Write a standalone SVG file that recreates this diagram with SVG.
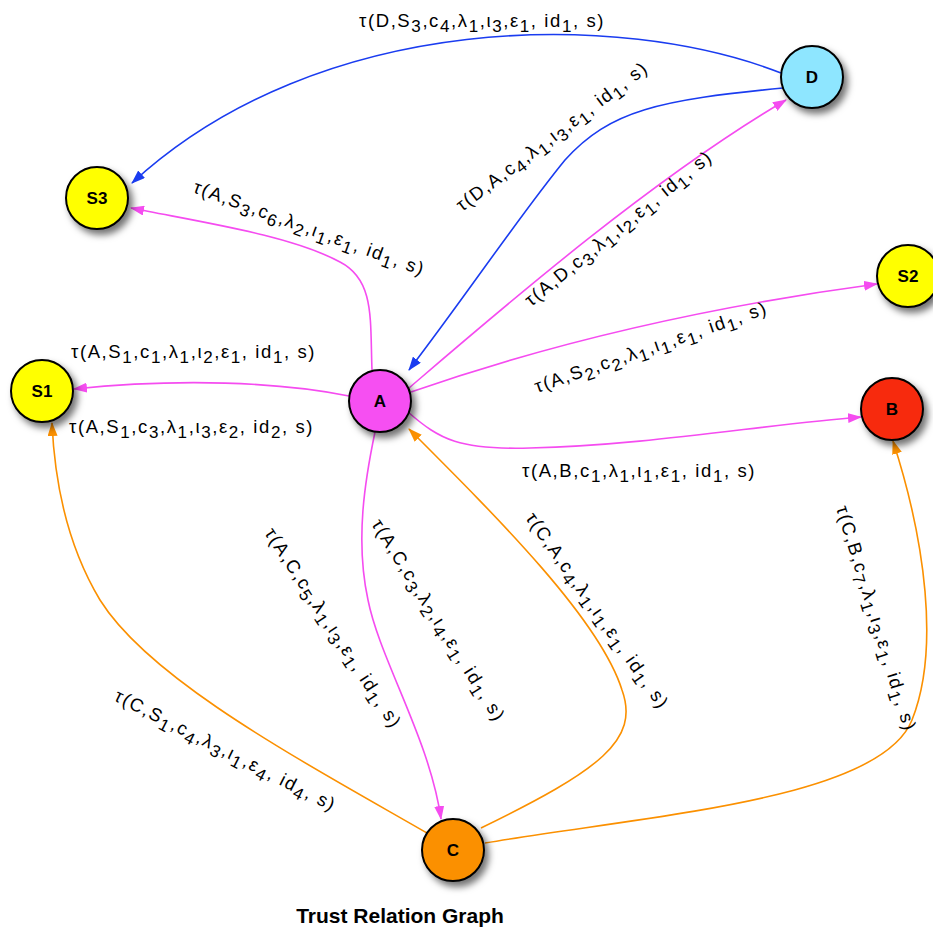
<svg xmlns="http://www.w3.org/2000/svg" width="933" height="931" viewBox="0 0 933 931">
  <style>
    .e { fill: none; stroke-width: 1.6; }
    .blue { stroke: #1a3cf0; }
    .pink { stroke: #f54cf0; }
    .orange { stroke: #fb9000; }
    .lbl { font-family: "Liberation Sans", Arial, sans-serif; font-size: 18.5px; letter-spacing: 1.6px; fill: #000; }
    .s { font-size: 17px; }
    .node { stroke: #000; stroke-width: 2; filter: url(#shadow); }
    .nt { font-family: "Liberation Sans", Arial, sans-serif; font-size: 17px; font-weight: bold; text-anchor: middle; fill: #000; }
    .title { font-family: "Liberation Sans", Arial, sans-serif; font-size: 21px; font-weight: bold; text-anchor: middle; fill: #000; }
  </style>
  <defs>
    <filter id="shadow" x="-50%" y="-50%" width="200%" height="200%">
      <feDropShadow dx="4" dy="5" stdDeviation="3.5" flood-color="#000" flood-opacity="0.55"/>
    </filter>
    <marker id="ab" viewBox="0 0 14 10" refX="13" refY="5" markerWidth="14" markerHeight="10" markerUnits="userSpaceOnUse" orient="auto">
      <path d="M0,0 L14,5 L0,10 Z" fill="#1a3cf0"/>
    </marker>
    <marker id="ap" viewBox="0 0 14 10" refX="13" refY="5" markerWidth="14" markerHeight="10" markerUnits="userSpaceOnUse" orient="auto">
      <path d="M0,0 L14,5 L0,10 Z" fill="#f54cf0"/>
    </marker>
    <marker id="ao" viewBox="0 0 14 10" refX="13" refY="5" markerWidth="14" markerHeight="10" markerUnits="userSpaceOnUse" orient="auto">
      <path d="M0,0 L14,5 L0,10 Z" fill="#fb9000"/>
    </marker>
  </defs>
  <rect width="933" height="931" fill="#fff"/>

  <!-- connectors -->
  <g id="edges">
    <path class="e blue" d="M781,73 C620,10 320,10 132,183" marker-end="url(#ab)"/>
    <path class="e blue" d="M783,88 C660,100 610,110 565,160 C520,215 470,290 409,370" marker-end="url(#ab)"/>
    <path class="e pink" d="M409,388 C500,310 650,180 786,100" marker-end="url(#ap)"/>
    <path class="e pink" d="M372,370 C370,320 375,280 340,262 C290,235 200,222 131,208" marker-end="url(#ap)"/>
    <path class="e pink" d="M411,392 C560,340 720,305 877,284" marker-end="url(#ap)"/>
    <path class="e pink" d="M408,412 C440,440 460,450 530,448 C650,445 760,425 861,417" marker-end="url(#ap)"/>
    <path class="e pink" d="M349,396 C280,382 180,378 74,389" marker-end="url(#ap)"/>
    <path class="e pink" d="M375,432 C365,480 355,540 368,600 C380,660 430,740 441,819" marker-end="url(#ap)"/>
    <path class="e orange" d="M481,828 C600,770 640,740 622,690 C600,620 500,520 409,429" marker-end="url(#ao)"/>
    <path class="e orange" d="M485,843 C650,815 880,800 912,720 C940,650 925,540 893,441" marker-end="url(#ao)"/>
    <path class="e orange" d="M427,833 C300,760 150,680 100,600 C70,550 55,490 52,423" marker-end="url(#ao)"/>
  </g>

  <!-- connector labels -->
  <g id="edge-labels" class="lbl">
    <text x="359" y="27">τ(D,S<tspan class="s" dy="5">3</tspan><tspan dy="-5">,c</tspan><tspan class="s" dy="5">4</tspan><tspan dy="-5">,λ</tspan><tspan class="s" dy="5">1</tspan><tspan dy="-5">,ι</tspan><tspan class="s" dy="5">3</tspan><tspan dy="-5">,ε</tspan><tspan class="s" dy="5">1</tspan><tspan dy="-5">, id</tspan><tspan class="s" dy="5">1</tspan><tspan dy="-5">, s)</tspan></text>
    <text transform="translate(462,212) rotate(-37)">τ(D,A,c<tspan class="s" dy="5">4</tspan><tspan dy="-5">,λ</tspan><tspan class="s" dy="5">1</tspan><tspan dy="-5">,ι</tspan><tspan class="s" dy="5">3</tspan><tspan dy="-5">,ε</tspan><tspan class="s" dy="5">1</tspan><tspan dy="-5">, id</tspan><tspan class="s" dy="5">1</tspan><tspan dy="-5">, s)</tspan></text>
    <text transform="translate(531,307) rotate(-39)">τ(A,D,c<tspan class="s" dy="5">3</tspan><tspan dy="-5">,λ</tspan><tspan class="s" dy="5">1</tspan><tspan dy="-5">,ι</tspan><tspan class="s" dy="5">2</tspan><tspan dy="-5">,ε</tspan><tspan class="s" dy="5">1</tspan><tspan dy="-5">, id</tspan><tspan class="s" dy="5">1</tspan><tspan dy="-5">, s)</tspan></text>
    <text transform="translate(192,192) rotate(20)">τ(A,S<tspan class="s" dy="5">3</tspan><tspan dy="-5">,c</tspan><tspan class="s" dy="5">6</tspan><tspan dy="-5">,λ</tspan><tspan class="s" dy="5">2</tspan><tspan dy="-5">,ι</tspan><tspan class="s" dy="5">1</tspan><tspan dy="-5">,ε</tspan><tspan class="s" dy="5">1</tspan><tspan dy="-5">, id</tspan><tspan class="s" dy="5">1</tspan><tspan dy="-5">, s)</tspan></text>
    <text x="71" y="358">τ(A,S<tspan class="s" dy="5">1</tspan><tspan dy="-5">,c</tspan><tspan class="s" dy="5">1</tspan><tspan dy="-5">,λ</tspan><tspan class="s" dy="5">1</tspan><tspan dy="-5">,ι</tspan><tspan class="s" dy="5">2</tspan><tspan dy="-5">,ε</tspan><tspan class="s" dy="5">1</tspan><tspan dy="-5">, id</tspan><tspan class="s" dy="5">1</tspan><tspan dy="-5">, s)</tspan></text>
    <text x="69" y="433">τ(A,S<tspan class="s" dy="5">1</tspan><tspan dy="-5">,c</tspan><tspan class="s" dy="5">3</tspan><tspan dy="-5">,λ</tspan><tspan class="s" dy="5">1</tspan><tspan dy="-5">,ι</tspan><tspan class="s" dy="5">3</tspan><tspan dy="-5">,ε</tspan><tspan class="s" dy="5">2</tspan><tspan dy="-5">, id</tspan><tspan class="s" dy="5">2</tspan><tspan dy="-5">, s)</tspan></text>
    <text transform="translate(537,393) rotate(-19)">τ(A,S<tspan class="s" dy="5">2</tspan><tspan dy="-5">,c</tspan><tspan class="s" dy="5">2</tspan><tspan dy="-5">,λ</tspan><tspan class="s" dy="5">1</tspan><tspan dy="-5">,ι</tspan><tspan class="s" dy="5">1</tspan><tspan dy="-5">,ε</tspan><tspan class="s" dy="5">1</tspan><tspan dy="-5">, id</tspan><tspan class="s" dy="5">1</tspan><tspan dy="-5">, s)</tspan></text>
    <text x="522" y="477">τ(A,B,c<tspan class="s" dy="5">1</tspan><tspan dy="-5">,λ</tspan><tspan class="s" dy="5">1</tspan><tspan dy="-5">,ι</tspan><tspan class="s" dy="5">1</tspan><tspan dy="-5">,ε</tspan><tspan class="s" dy="5">1</tspan><tspan dy="-5">, id</tspan><tspan class="s" dy="5">1</tspan><tspan dy="-5">, s)</tspan></text>
    <text transform="translate(264,533) rotate(57)">τ(A,C,c<tspan class="s" dy="5">5</tspan><tspan dy="-5">,λ</tspan><tspan class="s" dy="5">1</tspan><tspan dy="-5">,ι</tspan><tspan class="s" dy="5">3</tspan><tspan dy="-5">,ε</tspan><tspan class="s" dy="5">1</tspan><tspan dy="-5">, id</tspan><tspan class="s" dy="5">1</tspan><tspan dy="-5">, s)</tspan></text>
    <text transform="translate(371,524) rotate(58)">τ(A,C,c<tspan class="s" dy="5">3</tspan><tspan dy="-5">,λ</tspan><tspan class="s" dy="5">2</tspan><tspan dy="-5">,ι</tspan><tspan class="s" dy="5">4</tspan><tspan dy="-5">,ε</tspan><tspan class="s" dy="5">1</tspan><tspan dy="-5">, id</tspan><tspan class="s" dy="5">1</tspan><tspan dy="-5">, s)</tspan></text>
    <text transform="translate(525,518) rotate(55)">τ(C,A,c<tspan class="s" dy="5">4</tspan><tspan dy="-5">,λ</tspan><tspan class="s" dy="5">1</tspan><tspan dy="-5">,ι</tspan><tspan class="s" dy="5">1</tspan><tspan dy="-5">,ε</tspan><tspan class="s" dy="5">1</tspan><tspan dy="-5">, id</tspan><tspan class="s" dy="5">1</tspan><tspan dy="-5">, s)</tspan></text>
    <text transform="translate(836,508) rotate(73)">τ(C,B,c<tspan class="s" dy="5">7</tspan><tspan dy="-5">,λ</tspan><tspan class="s" dy="5">1</tspan><tspan dy="-5">,ι</tspan><tspan class="s" dy="5">3</tspan><tspan dy="-5">,ε</tspan><tspan class="s" dy="5">1</tspan><tspan dy="-5">, id</tspan><tspan class="s" dy="5">1</tspan><tspan dy="-5">, s)</tspan></text>
    <text transform="translate(113,700) rotate(27)">τ(C,S<tspan class="s" dy="5">1</tspan><tspan dy="-5">,c</tspan><tspan class="s" dy="5">4</tspan><tspan dy="-5">,λ</tspan><tspan class="s" dy="5">3</tspan><tspan dy="-5">,ι</tspan><tspan class="s" dy="5">1</tspan><tspan dy="-5">,ε</tspan><tspan class="s" dy="5">4</tspan><tspan dy="-5">, id</tspan><tspan class="s" dy="5">4</tspan><tspan dy="-5">, s)</tspan></text>
  </g>

  <!-- nodes -->
  <g id="node-D"><circle class="node" cx="812" cy="77" r="31" fill="#8ee6ff"/><text class="nt" x="812" y="83">D</text></g>
  <g id="node-S3"><circle class="node" cx="97" cy="198" r="31" fill="#ffff00"/><text class="nt" x="97" y="204">S3</text></g>
  <g id="node-S2"><circle class="node" cx="908" cy="276" r="31" fill="#ffff00"/><text class="nt" x="908" y="282">S2</text></g>
  <g id="node-S1"><circle class="node" cx="42" cy="391" r="31" fill="#ffff00"/><text class="nt" x="42" y="397">S1</text></g>
  <g id="node-A"><circle class="node" cx="380" cy="401" r="31" fill="#f64ff2"/><text class="nt" x="380" y="407">A</text></g>
  <g id="node-B"><circle class="node" cx="892" cy="409" r="31" fill="#f72a0c"/><text class="nt" x="892" y="415">B</text></g>
  <g id="node-C"><circle class="node" cx="453" cy="850" r="31" fill="#fb9000"/><text class="nt" x="453" y="856">C</text></g>

  <text class="title" x="400" y="923">Trust Relation Graph</text>
</svg>
